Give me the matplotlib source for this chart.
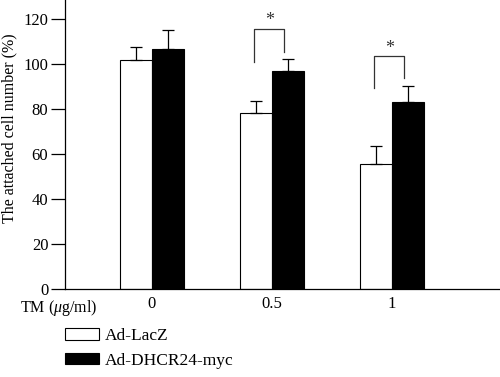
import matplotlib.pyplot as plt
from matplotlib.patches import Patch

plt.rcParams['font.family'] = ['Liberation Serif', 'DejaVu Serif']
plt.rcParams['mathtext.fontset'] = 'custom'
plt.rcParams['mathtext.rm'] = 'Liberation Serif'
plt.rcParams['mathtext.it'] = 'Liberation Serif:italic'

doses = ['0', '0.5', '1']
lacz = [101.8, 78.1, 55.6]
lacz_err = [5.6, 5.6, 8.1]
dhcr = [106.8, 97.0, 83.1]
dhcr_err = [8.3, 5.2, 7.0]

# significance brackets: (group, left bottom, right bottom, top, star y)
sig_groups = [1, 2]
sig_left = [101.0, 89.5]
sig_right = [105.5, 93.9]
sig_top = [115.7, 103.6]
sig_star = [119.5, 107.0]

fig = plt.figure(figsize=(5, 3.77), dpi=100)
ax = fig.add_axes([0.13, 0.2334, 0.87, 0.7666])

w = 0.267
x = list(range(len(doses)))
ax.bar([i - w / 2 for i in x], lacz, w, color='white', edgecolor='black', linewidth=0.8,
       yerr=[[0] * 3, lacz_err], error_kw=dict(capsize=4.3, elinewidth=0.9, capthick=0.9))
ax.bar([i + w / 2 for i in x], dhcr, w, color='black', edgecolor='black', linewidth=0.8,
       yerr=[[0] * 3, dhcr_err], error_kw=dict(capsize=4.3, elinewidth=0.9, capthick=0.9))

for g, yl, yr, yt, ys in zip(sig_groups, sig_left, sig_right, sig_top, sig_star):
    xl = g - w / 2 - 0.015
    xr = g + w / 2 - 0.03
    ax.plot([xl, xl, xr, xr], [yl, yt, yt, yr], color='#333333', lw=0.9)
    ax.text((xl + xr) / 2, ys, '*', ha='center', va='center', fontsize=13, color='#333333')

ax.set_xlim(-0.725, 2.9)
ax.set_ylim(0, 128.5)
ax.set_yticks(range(0, 121, 20))
ax.set_xticks(x)
ax.set_xticklabels(doses)
ax.tick_params(axis='x', length=0, labelsize=12, pad=5)
ax.tick_params(axis='y', length=10, width=0.9, labelsize=12, pad=2)
ax.spines['top'].set_visible(False)
ax.spines['right'].set_visible(False)
ax.spines['left'].set_linewidth(0.9)
ax.spines['bottom'].set_linewidth(0.9)
ax.set_ylabel('The attached cell number (%)', fontsize=11.5)
ax.yaxis.set_label_coords(-0.11, 0.557)

fig.text(0.118, 1 - 308 / 377, 'TM ($\\mathit{\\mu}$g/ml)', fontsize=11.5, ha='center', va='center')

handles = [Patch(facecolor='white', edgecolor='black', linewidth=0.8, label='Ad-LacZ'),
           Patch(facecolor='black', edgecolor='black', linewidth=0.8, label='Ad-DHCR24-myc')]
fig.legend(handles=handles, loc='upper left', bbox_to_anchor=(0.13, 1 - 328 / 377),
           frameon=False, fontsize=12.5, handlelength=1.96, handleheight=0.64,
           handletextpad=0.35, labelspacing=0.5, borderpad=0, borderaxespad=0)

fig.savefig('out.png', dpi=100)
